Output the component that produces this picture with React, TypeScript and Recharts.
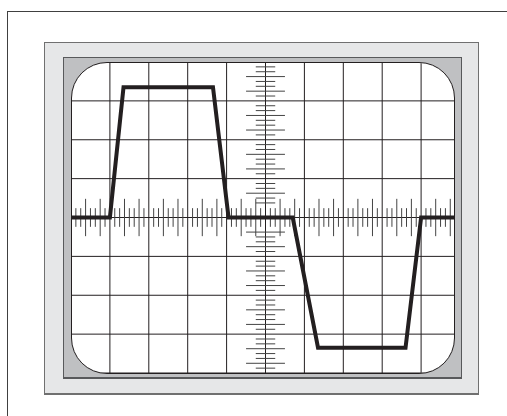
import { LineChart, Line, XAxis, YAxis, CartesianGrid, ReferenceLine } from "recharts";

// trace, in divisions (x: 0..10, y: -4..4)
const time = [0, 1.0, 1.35, 3.65, 4.05, 5.7, 6.35, 8.6, 9.0, 10];
const volts = [0, 0, 3.35, 3.35, 0, 0, -3.35, -3.35, 0, 0];

const xDivisions = [0, 1, 2, 3, 4, 5, 6, 7, 8, 9, 10];
const yDivisions = [-4, -3, -2, -1, 0, 1, 2, 3, 4];
// graticule minor marks: eighths of a division, some drawn longer
const subSteps = [1, 2, 3, 4, 5, 6, 7];
const xLongSteps = [3, 6];
const yLongSteps = [2, 5];
// the vertical scale leaves a gap around the centre line
const yGap = 0.3;

const trace = time.map((t, i) => ({ t, v: volts[i] }));

const minor = (divs: number[], longSteps: number[]) =>
  divs.slice(0, -1).flatMap((d) =>
    subSteps.map((s) => ({ pos: d + s / 8, long: longSteps.includes(s) }))
  );
const xMinor = minor(xDivisions, xLongSteps);
const yMinor = minor(yDivisions, yLongSteps).filter((m) => Math.abs(m.pos) > yGap);

const INK = "#231f20";
const TICK = "#444";

function Scope() {
  return (
    <LineChart
      width={389}
      height={311}
      data={trace}
      margin={{ top: 0, right: 0, bottom: 0, left: 0 }}
    >
      <XAxis dataKey="t" type="number" domain={[0, 10]} ticks={xDivisions} hide />
      <YAxis type="number" domain={[-4, 4]} ticks={yDivisions} hide />
      <CartesianGrid stroke={INK} strokeWidth={1} />
      <ReferenceLine x={5} stroke={INK} strokeWidth={1} />
      <ReferenceLine y={0} stroke={INK} strokeWidth={1} />
      {xMinor.map((m, i) => {
        const h = m.long ? 0.48 : 0.24;
        return (
          <ReferenceLine
            key={`xm-${i}`}
            segment={[{ x: m.pos, y: -h }, { x: m.pos, y: h }]}
            stroke={TICK}
            strokeWidth={1}
          />
        );
      })}
      {yMinor.map((m, i) => {
        const w = m.long ? 0.5 : 0.25;
        return (
          <ReferenceLine
            key={`ym-${i}`}
            segment={[{ x: 5 - w, y: m.pos }, { x: 5 + w, y: m.pos }]}
            stroke={TICK}
            strokeWidth={1}
          />
        );
      })}
      <Line
        type="linear"
        dataKey="v"
        stroke={INK}
        strokeWidth={4}
        strokeLinejoin="miter"
        dot={false}
        isAnimationActive={false}
      />
    </LineChart>
  );
}

export default function App() {
  return (
    <div
      style={{
        position: "absolute",
        left: 0,
        top: 0,
        width: 507,
        height: 416,
        overflow: "hidden",
        background: "#fff",
      }}
    >
      {/* outer frame */}
      <div
        style={{
          position: "absolute",
          left: 7,
          top: 11,
          width: 540,
          height: 440,
          borderLeft: "1.5px solid #404040",
          borderTop: "1.5px solid #404040",
        }}
      />
      {/* bezel */}
      <div
        style={{
          position: "absolute",
          left: 44,
          top: 42,
          width: 435,
          height: 353,
          boxSizing: "border-box",
          background: "#e6e7e8",
          border: "1px solid #707070",
          borderBottomWidth: 2,
        }}
      />
      <div
        style={{
          position: "absolute",
          left: 63,
          top: 57,
          width: 399,
          height: 322,
          boxSizing: "border-box",
          background: "#bfc0c2",
          border: "1px solid #58595b",
          borderBottomWidth: 2,
        }}
      />
      {/* screen */}
      <div
        style={{
          position: "absolute",
          left: 71,
          top: 62,
          width: 384,
          height: 312,
          boxSizing: "border-box",
          background: "#fff",
          border: `1px solid ${INK}`,
          borderRadius: 36,
          overflow: "hidden",
        }}
      >
        <div style={{ position: "absolute", left: -1, top: -1 }}>
          <Scope />
        </div>
      </div>
    </div>
  );
}
